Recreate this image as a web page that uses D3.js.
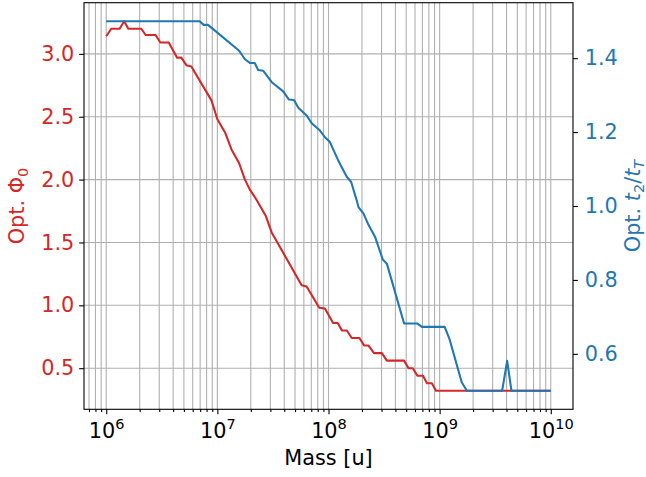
<!DOCTYPE html>
<html>
<head>
<meta charset="utf-8">
<script src="https://cdn.jsdelivr.net/npm/d3@7"></script>
<style>
  body { margin: 0; background: #fff; }
  svg text { font-family: "DejaVu Sans", sans-serif; }
</style>
</head>
<body>
<div id="chart"></div>
<script>
// Opt. Phi_0 (red, left axis) vs mass
const massRed = [1.00e6, 1.11e6, 1.32e6, 1.45e6, 1.58e6, 2.07e6, 2.26e6, 2.78e6, 3.07e6, 3.65e6,
  4.34e6, 4.74e6, 5.26e6, 5.83e6, 8.85e6, 1.00e7, 1.18e7, 1.34e7, 1.57e7, 1.77e7,
  1.96e7, 2.25e7, 2.73e7, 3.08e7, 5.73e7, 6.35e7, 8.26e7, 9.29e7, 1.10e8, 1.21e8,
  1.32e8, 1.46e8, 1.62e8, 1.90e8, 2.09e8, 2.29e8, 2.57e8, 3.02e8, 3.35e8, 4.79e8,
  5.25e8, 5.74e8, 6.31e8, 7.08e8, 7.69e8, 8.51e8, 9.27e8, 1.00e10];
const phi0 = [3.14, 3.20, 3.20, 3.26, 3.20, 3.20, 3.15, 3.15, 3.09, 3.09,
  2.97, 2.97, 2.91, 2.90, 2.63, 2.48, 2.37, 2.24, 2.13, 2.00,
  1.92, 1.84, 1.71, 1.58, 1.16, 1.15, 0.98, 0.975, 0.86, 0.86,
  0.80, 0.80, 0.74, 0.74, 0.68, 0.68, 0.62, 0.62, 0.56, 0.56,
  0.50, 0.50, 0.44, 0.44, 0.38, 0.38, 0.32, 0.32];

// Opt. t2/tT (blue, right axis) vs mass
const massBlue = [1.00e6, 6.93e6, 7.53e6, 8.24e6, 1.57e7, 1.77e7, 1.96e7, 2.17e7, 2.33e7, 2.58e7,
  3.11e7, 3.91e7, 4.41e7, 4.89e7, 5.35e7, 6.35e7, 7.06e7, 8.38e7, 9.29e7, 1.03e8,
  1.22e8, 1.46e8, 1.60e8, 1.79e8, 1.86e8, 2.06e8, 2.29e8, 2.62e8, 3.08e8, 3.35e8,
  4.79e8, 6.31e8, 6.92e8, 1.11e9, 1.23e9, 1.58e9, 1.76e9, 3.65e9, 4.05e9, 4.43e9, 1.00e10];
const t2tT = [1.50, 1.50, 1.49, 1.49, 1.42, 1.397, 1.387, 1.387, 1.368, 1.366,
  1.334, 1.310, 1.288, 1.287, 1.266, 1.245, 1.224, 1.204, 1.186, 1.173,
  1.124, 1.079, 1.065, 1.016, 0.997, 0.980, 0.949, 0.917, 0.855, 0.844,
  0.682, 0.682, 0.673, 0.673, 0.639, 0.523, 0.50, 0.50, 0.581, 0.50, 0.50];

const xMajor = [1e6, 1e7, 1e8, 1e9, 1e10];
const xExp = ["6", "7", "8", "9", "10"];
const leftTicks = [0.5, 1.0, 1.5, 2.0, 2.5, 3.0];
const rightTicks = [0.6, 0.8, 1.0, 1.2, 1.4];

const red = "#d62728", blue = "#1f77b4";
const svgWidth = 646, svgHeight = 477;
const margin = { top: 2.7, right: 73, bottom: 67.7, left: 84 };
const width = svgWidth - margin.left - margin.right;
const height = svgHeight - margin.top - margin.bottom;
const fs = 20.8;
const majorLen = 4.86, minorLen = 2.8, pad = 4.86;

const svg = d3.select("#chart").append("svg")
  .attr("width", svgWidth).attr("height", svgHeight);
const g = svg.append("g").attr("transform", `translate(${margin.left},${margin.top})`);

const x = d3.scaleLog().domain([Math.pow(10, 5.8), Math.pow(10, 10.2)]).range([0, width]);
const yL = d3.scaleLinear().domain([0.173, 3.407]).range([height, 0]);
const yR = d3.scaleLinear().domain([0.45, 1.55]).range([height, 0]);

// minor positions on x
const xMinor = [];
for (let e = 5; e <= 10; e++) {
  for (let k = 2; k <= 9; k++) {
    const v = k * Math.pow(10, e);
    if (v > x.domain()[0] && v < x.domain()[1]) xMinor.push(v);
  }
}

// grid
g.append("g").selectAll("line").data(xMinor.concat(xMajor)).join("line")
  .attr("x1", d => x(d)).attr("x2", d => x(d))
  .attr("y1", 0).attr("y2", height)
  .attr("stroke", "#b0b0b0").attr("stroke-width", 1.1);
g.append("g").selectAll("line").data(leftTicks).join("line")
  .attr("x1", 0).attr("x2", width)
  .attr("y1", d => yL(d)).attr("y2", d => yL(d))
  .attr("stroke", "#b0b0b0").attr("stroke-width", 1.1);

// lines
const lineRed = d3.line().x((d, i) => x(massRed[i])).y(d => yL(d));
const lineBlue = d3.line().x((d, i) => x(massBlue[i])).y(d => yR(d));
g.append("path").attr("d", lineRed(phi0))
  .attr("fill", "none").attr("stroke", red).attr("stroke-width", 2.08)
  .attr("stroke-linejoin", "round");
g.append("path").attr("d", lineBlue(t2tT))
  .attr("fill", "none").attr("stroke", blue).attr("stroke-width", 2.08)
  .attr("stroke-linejoin", "round");

// axes
function styleAxis(sel) {
  sel.select(".domain").remove();
  sel.selectAll(".tick line").attr("stroke", "#000").attr("stroke-width", 1.1);
}

const xAx = g.append("g").attr("transform", `translate(0,${height})`)
  .call(d3.axisBottom(x).tickValues(xMajor).tickSize(majorLen).tickFormat(""))
  .call(styleAxis);
xAx.selectAll(".tick text").remove();
xAx.selectAll(".tick").append("text")
  .attr("y", 28.7).attr("text-anchor", "middle")
  .attr("fill", "#000").style("font-size", fs + "px")
  .each(function(d, i) {
    const t = d3.select(this);
    t.append("tspan").text("10");
    t.append("tspan").attr("dy", -8.5).style("font-size", (fs * 0.7) + "px").text(xExp[i]);
  });
g.append("g").attr("transform", `translate(0,${height})`)
  .call(d3.axisBottom(x).tickValues(xMinor).tickSize(minorLen).tickFormat(""))
  .call(styleAxis);

const yAxL = g.append("g")
  .call(d3.axisLeft(yL).tickValues(leftTicks).tickSize(majorLen).tickPadding(pad).tickFormat(d3.format(".1f")))
  .call(styleAxis);
yAxL.selectAll(".tick text").attr("fill", red).style("font-size", fs + "px");

const yAxR = g.append("g").attr("transform", `translate(${width},0)`)
  .call(d3.axisRight(yR).tickValues(rightTicks).tickSize(majorLen).tickPadding(pad + 2).tickFormat(d3.format(".1f")))
  .call(styleAxis);
yAxR.selectAll(".tick text").attr("fill", blue).style("font-size", fs + "px");

// spines
g.append("rect").attr("width", width).attr("height", height)
  .attr("fill", "none").attr("stroke", "#000").attr("stroke-width", 1.1);

// labels
svg.append("text")
  .attr("x", margin.left + width / 2).attr("y", 465)
  .attr("text-anchor", "middle").style("font-size", fs + "px").attr("fill", "#000")
  .text("Mass [u]");

const lblL = svg.append("text")
  .attr("transform", `translate(24,${margin.top + height / 2}) rotate(-90)`)
  .attr("text-anchor", "middle").style("font-size", fs + "px").attr("fill", red);
lblL.append("tspan").text("Opt. Φ");
lblL.append("tspan").attr("dy", 4).style("font-size", (fs * 0.7) + "px").text("0");

const lblR = svg.append("text")
  .attr("transform", `translate(640,${margin.top + height / 2}) rotate(-90)`)
  .attr("text-anchor", "middle").style("font-size", fs + "px").attr("fill", blue);
lblR.append("tspan").text("Opt. ");
lblR.append("tspan").style("font-style", "italic").text("t");
lblR.append("tspan").attr("dy", 4).style("font-size", (fs * 0.7) + "px").text("2");
lblR.append("tspan").attr("dy", -4).text("/");
lblR.append("tspan").style("font-style", "italic").text("t");
lblR.append("tspan").attr("dy", 4).style("font-size", (fs * 0.7) + "px").style("font-style", "italic").text("T");
</script>
</body>
</html>
